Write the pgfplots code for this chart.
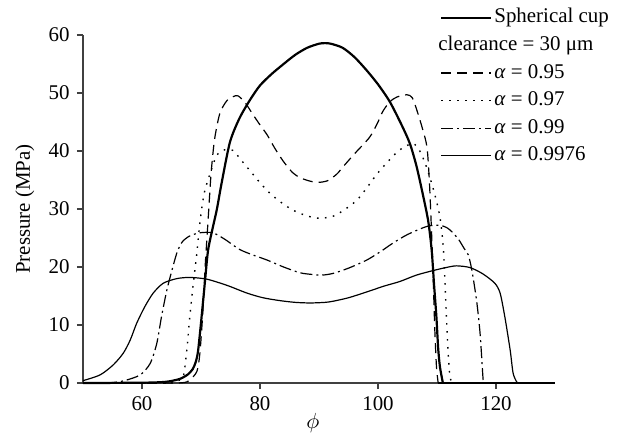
\documentclass[border=0pt]{standalone}
\usepackage{pgfplots}
\pgfplotsset{compat=1.18}
\usepackage{fontspec}
\setmainfont{Liberation Serif}
\begin{document}
\fontsize{10.5}{12}\selectfont
\begin{tikzpicture}
\useasboundingbox (-41.5bp,-26.5bp) rectangle (267.5bp,191.5bp);
\begin{axis}[
  scale only axis,
  width=236bp, height=174bp,
  xmin=50, xmax=130, ymin=0, ymax=60,
  axis lines=left,
  axis line style={-, black!75, line width=0.6pt},
  every tick/.style={black!75, line width=0.6pt},
  tick align=outside,
  major tick length=3bp,
  xtick={60,80,100,120},
  ytick={0,10,20,30,40,50,60},
  /pgf/number format/assume math mode=true,
  tick label style={font=\fontsize{10.5}{12}\selectfont},
  xlabel={$\phi$},
  ylabel={Pressure (MPa)},
  xlabel style={at={(axis description cs:0.487,-0.115)}, anchor=center},
  ylabel style={at={(axis description cs:-0.123,0.5)}, anchor=center},
  clip=false,
  every axis plot/.append style={smooth, tension=0.45},
  legend cell align=left,
  legend style={draw=none, fill=none, at={(axis description cs:0.756,1.082)}, anchor=north west,
    inner sep=0pt, row sep=2.8bp,
    nodes={inner sep=1pt, text height=7bp, text depth=2bp, font=\fontsize{10.5}{12}\selectfont}},
  legend image code/.code={\draw[#1, sharp plot] (0bp,0bp) -- (25bp,0bp);},
]
\addplot[black, line width=1.1pt] coordinates {
(50,0) (60,0.05) (64,0.2) (66.4,0.7) (67.8,1.5) (68.6,2.4) (69.1,3.6) (69.5,5.5) (70.1,11.4) (70.7,17.8) (71.2,22.9) (72,26.8) (72.7,30) (73.5,34.5) (74.9,41.5) (76.5,45.6) (78.3,48.8) (80,51.3) (82,53.3) (84,55) (86,56.6) (88,57.8) (90,58.5) (91,58.6) (92,58.5) (94,57.8) (96,56.2) (98,54) (100,51.5) (102,48.5) (104,44.5) (105.4,41.3) (106.5,37.5) (107.5,33) (108.5,28) (109.1,22.9) (109.5,17) (109.9,11.4) (110.2,6) (110.5,2.8) (111,0)};
\addlegendentry{Spherical cup}
\addplot[black, line width=1.1pt, sharp plot, forget plot] coordinates {(111,0) (130,0)};
\addlegendimage{empty legend}
\addlegendentry{\hspace*{-28bp}clearance = 30 μm}
\addplot[black, line width=0.6pt, dash pattern=on 5bp off 3bp] coordinates {
(50,0) (66,0) (68.1,0.6) (69.3,2) (69.8,5) (70.3,12) (70.7,20) (71.2,28) (71.7,36) (72.3,42) (73.2,46.5) (74.4,48.7) (75.5,49.4) (76.3,49.5) (77.5,48.3) (78.8,46.3) (80,44.5) (81.2,42.8) (82.5,40.5) (83.9,38.3) (85.5,36.3) (86.8,35.4) (88.5,34.8) (90,34.6) (91.5,34.9) (93,36) (94.1,37.3) (96,39.5) (98.6,42.4) (100,45) (100.8,46.8) (102,48.5) (103.2,49.3) (104.9,49.7) (105.8,49.2) (106.6,47) (107.5,44) (108.3,40.7) (108.7,35) (109,28) (109.3,20) (109.6,10) (109.9,3) (110.2,0)};
\addlegendentry{\textit{α} = 0.95}
\addplot[black, line width=0.6pt, dash pattern=on 5bp off 3bp, sharp plot, forget plot] coordinates {(110.2,0) (130,0)};
\addplot[black, line width=0.7pt, dash pattern=on 0.8bp off 3.2bp] coordinates {
(50,0) (64,0) (66,0.4) (67,1.1) (67.6,5.7) (68.1,11.4) (68.7,17.2) (69.3,22.4) (69.8,27.5) (70.5,32.5) (71.5,36) (72.7,39.3) (74,40.2) (75.4,40.1) (77,38.2) (78.8,36) (80.2,34.3) (81.7,32.7) (83.5,31.2) (85.6,29.8) (88,28.8) (90.2,28.4) (92.5,28.8) (94.5,30) (96.4,31.5) (98,33.5) (99.8,36) (101.8,38.3) (103.7,40.2) (105.9,41.3) (107.2,39.8) (108.3,37) (109.5,33) (110.5,28.6) (111.1,22.9) (111.6,11.4) (111.9,5) (112.2,1.1) (112.6,0)};
\addlegendentry{\textit{α} = 0.97}
\addplot[black, line width=0.7pt, dash pattern=on 0.8bp off 3.2bp, sharp plot, forget plot] coordinates {(112.6,0) (130,0)};
\addplot[black, line width=0.6pt, dash pattern=on 6bp off 2bp on 1bp off 2bp] coordinates {
(50,0) (54.6,0.05) (57,0.4) (59.7,1.4) (61.4,3.4) (62.5,6.8) (63.3,11.4) (64.1,15.5) (64.7,18) (65.9,22.4) (66.8,24.3) (68,25.3) (69.8,25.9) (72,25.9) (74,24.8) (76.6,23) (79,22) (81.2,21.2) (84,20) (86.8,19) (89,18.7) (90.5,18.6) (92.4,18.9) (95,19.8) (98.1,21.2) (100.5,22.7) (102.5,24.1) (105,25.6) (108.3,27) (110.5,27.2) (111.8,26.7) (112.7,25.9) (113.7,24.7) (114.6,23.2) (115.3,22.1) (115.9,19.5) (116.7,14.3) (117.3,8.6) (117.8,0.8) (117.9,0)};
\addlegendentry{\textit{α} = 0.99}
\addplot[black, line width=0.6pt, dash pattern=on 6bp off 2bp on 1bp off 2bp, sharp plot, forget plot] coordinates {(117.9,0) (130,0)};
\addplot[black, line width=0.6pt] coordinates {
(50,0.4) (52.9,1.4) (55.1,3.1) (56.8,5.1) (58,7.4) (59.1,10.3) (60.5,13.2) (61.9,15.5) (63.6,17.2) (65.9,18.0) (68.1,18.2) (71,17.9) (74.5,16.8) (77.8,15.5) (80.5,14.7) (83.4,14.2) (86,13.9) (88.5,13.8) (91,13.9) (92.4,14.1) (95,14.7) (98.1,15.7) (101,16.7) (103.7,17.5) (106.5,18.6) (109.4,19.4) (111.5,19.9) (113.3,20.2) (115.6,19.9) (117.8,18.8) (119.8,17.2) (120.7,15.5) (121.5,11.4) (122.4,5.7) (122.9,1.7) (123.5,0.2) (123.7,0)};
\addlegendentry{\textit{α} = 0.9976}
\addplot[black, line width=0.6pt, sharp plot, forget plot] coordinates {(123.7,0) (130,0)};
\end{axis}
\end{tikzpicture}
\end{document}
